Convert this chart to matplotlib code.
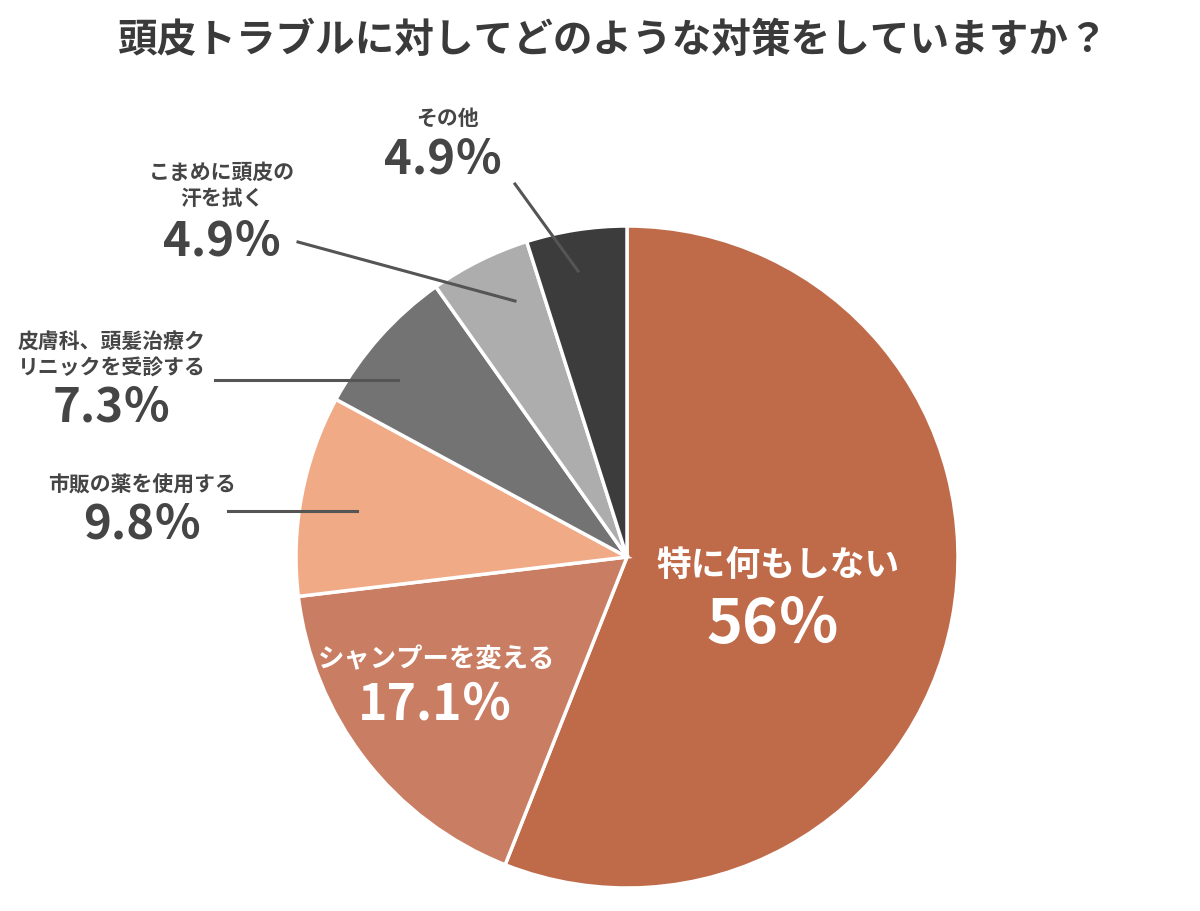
import matplotlib
matplotlib.use("Agg")
import matplotlib.pyplot as plt

plt.rcParams['font.family'] = ['Noto Sans CJK JP', 'DejaVu Sans']

title = "頭皮トラブルに対してどのような対策をしていますか？"
labels = ["特に何もしない", "シャンプーを変える", "市販の薬を使用する",
          "皮膚科、頭髪治療ク\nリニックを受診する", "こまめに頭皮の\n汗を拭く", "その他"]
values = [56, 17.1, 9.8, 7.3, 4.9, 4.9]
colors = ["#BF6A48", "#C97E63", "#F0AA86", "#737373", "#ADADAD", "#3C3C3C"]

W, H = 1200, 912
fig = plt.figure(figsize=(W / 100, H / 100), dpi=100)

# pie in its own axes so angles are not mirrored by the flipped overlay axis
cx, cy, r = 627, 558, 331
pax = fig.add_axes([(cx - r) / W, 1 - (cy + r) / H, 2 * r / W, 2 * r / H])
pax.pie(values, colors=colors, startangle=90, counterclock=False,
        wedgeprops=dict(edgecolor="white", linewidth=2.5))
pax.set_xlim(-1, 1)
pax.set_ylim(-1, 1)
pax.set_aspect("auto")
pax.axis("off")

# overlay in pixel coordinates (y from top) for text and leader lines
ax = fig.add_axes([0, 0, 1, 1])
ax.set_xlim(0, W)
ax.set_ylim(H, 0)
ax.patch.set_alpha(0)
ax.axis("off")

dark = "#454545"
ax.text(613, 40, title, ha="center", va="center", fontsize=28.5,
        fontweight="bold", color="#3a3a3a")

def pct(v):
    return "%g％" % v

# inside labels
ax.text(778, 565, labels[0], ha="center", va="center", fontsize=25,
        fontweight="bold", color="white")
ax.text(773, 625, pct(values[0]), ha="center", va="center", fontsize=44,
        fontweight="bold", color="white")
ax.text(437, 660, labels[1], ha="center", va="center", fontsize=19,
        fontweight="bold", color="white")
ax.text(435, 705, pct(values[1]), ha="center", va="center", fontsize=36,
        fontweight="bold", color="white")

# outside labels: (label center, pct center, leader line)
outside = [
    (2, (142, 485), (142, 525), [(228, 512), (357, 512)]),
    (3, (112, 354), (112, 408), [(215, 381), (398, 381)]),
    (4, (222, 185), (222, 242), [(298, 243), (515, 302)]),
    (5, (447, 118), (443, 160), [(515, 185), (578, 272)]),
]
for i, lp, pp, line in outside:
    ax.text(lp[0], lp[1], labels[i], ha="center", va="center", fontsize=15,
            fontweight="bold", color=dark, linespacing=1.3)
    ax.text(pp[0], pp[1], pct(values[i]), ha="center", va="center",
            fontsize=34, fontweight="bold", color=dark)
    (x0, y0), (x1, y1) = line
    ax.plot([x0, x1], [y0, y1], color="#555555", lw=2.2)

fig.savefig("out.png", dpi=100)
